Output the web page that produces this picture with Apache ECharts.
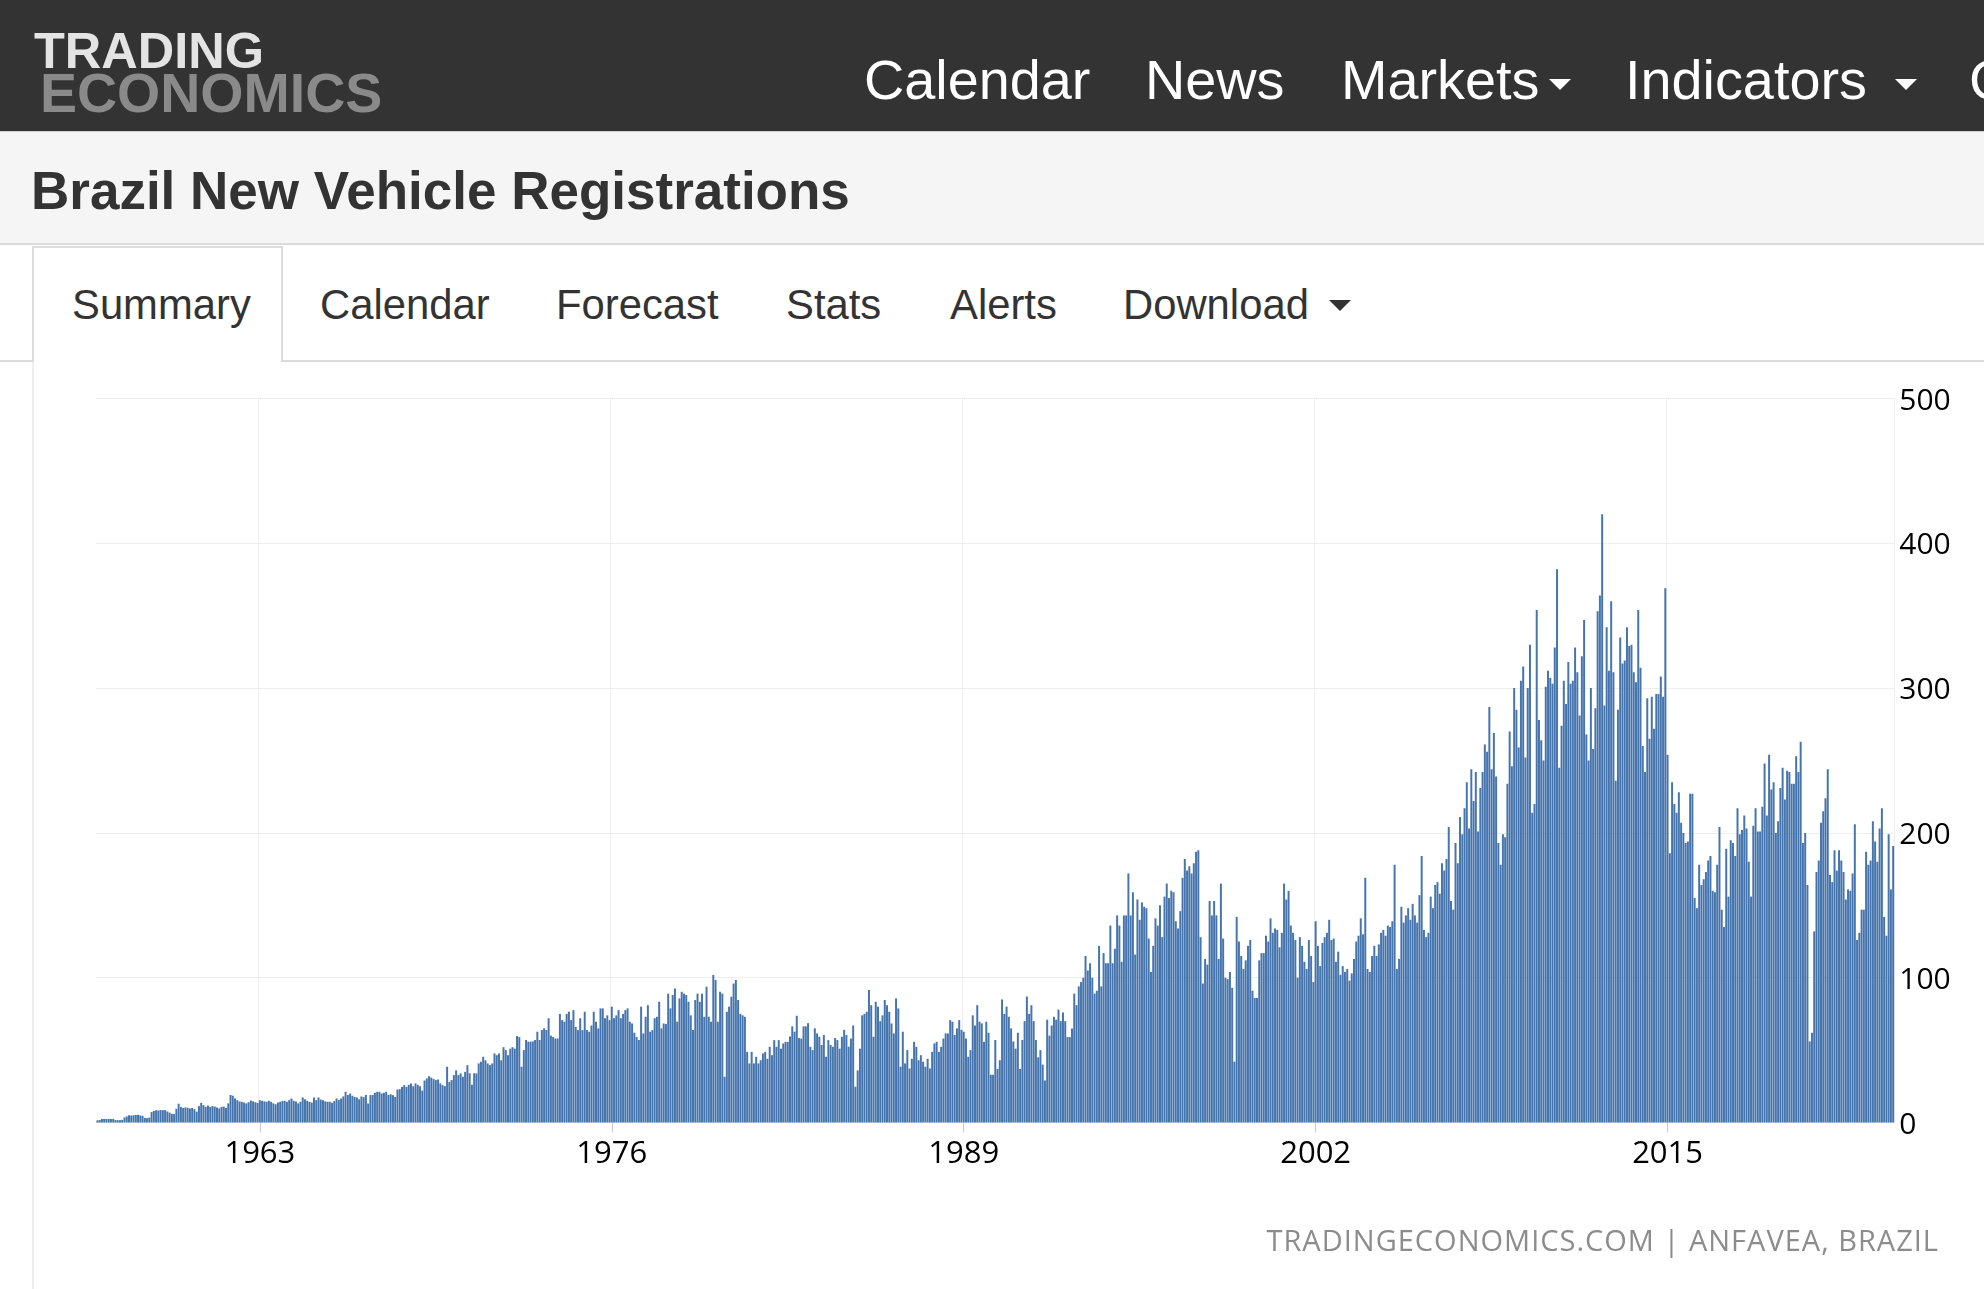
<!DOCTYPE html>
<html>
<head>
<meta charset="utf-8">
<title>Brazil New Vehicle Registrations</title>
<script src="https://cdn.jsdelivr.net/npm/echarts@6/dist/echarts.min.js"></script>
<style>
	html, body { margin:0; padding:0; width:1984px; height:1289px; overflow:hidden; background:#fff; font-family:'Liberation Sans', Arial, Helvetica, sans-serif; }
	.abs { position:absolute; white-space:nowrap; line-height:1; }
	#header { position:absolute; left:0; top:0; width:1984px; height:131px; background:#333; border-bottom:1px solid #cfcfcf; overflow:hidden; }
	#logo1 { left:34px; top:26px; font-size:50.5px; font-weight:bold; color:#e4e4e4; }
	#logo2 { left:40px; top:66px; font-size:55.5px; font-weight:bold; color:#8a8a8a; }
	.nav { top:52px; font-size:55.8px; color:#fff; }
	.caret { position:absolute; width:0; height:0; border-left:11px solid transparent; border-right:11px solid transparent; border-top:11px solid #fff; }
	#titlebar { position:absolute; left:0; top:132px; width:1984px; height:111px; background:#f5f5f5; border-bottom:2px solid #dcdcdc; }
	#title { left:31px; top:164px; font-size:53px; font-weight:bold; color:#333; }
	#tabline { position:absolute; left:0; top:360px; width:1984px; height:2px; background:#dcdcdc; }
	#tabactive { position:absolute; left:32px; top:246px; width:251px; height:116px; box-sizing:border-box; border:2px solid #dcdcdc; border-bottom:0; background:#fff; }
	.tab { top:284px; font-size:41.8px; color:#333; }
	#panelborder { position:absolute; left:32px; top:362px; width:2px; height:927px; background:#eeeeee; z-index:2; }
	#chart { position:absolute; left:35px; top:362px; width:1949px; height:927px; }
	#footer { top:1225px; right:45px; font-family:'Open Sans', sans-serif; font-size:29px; letter-spacing:1px; color:#8c8c8c; }
</style>
</head>
<body>
<div id="header">
	<div class="abs" id="logo1">TRADING</div>
	<div class="abs" id="logo2">ECONOMICS</div>
	<div class="abs nav" style="left:864px;">Calendar</div>
	<div class="abs nav" style="left:1145px;">News</div>
	<div class="abs nav" style="left:1341px;">Markets</div>
	<div class="caret" style="left:1549px;top:79px;"></div>
	<div class="abs nav" style="left:1625px;">Indicators</div>
	<div class="caret" style="left:1895px;top:79px;"></div>
	<div class="abs nav" style="left:1969px;">Countries</div>
</div>
<div id="titlebar"></div>
<div class="abs" id="title">Brazil New Vehicle Registrations</div>
<div id="tabline"></div>
<div id="tabactive"></div>
<div class="abs tab" style="left:72px;">Summary</div>
<div class="abs tab" style="left:320px;">Calendar</div>
<div class="abs tab" style="left:556px;">Forecast</div>
<div class="abs tab" style="left:786px;">Stats</div>
<div class="abs tab" style="left:950px;">Alerts</div>
<div class="abs tab" style="left:1123px;">Download</div>
<div class="caret" style="left:1329px;top:300px;border-top-color:#333;"></div>
<div id="panelborder"></div>
<div id="chart"></div>
<div class="abs" id="footer">TRADINGECONOMICS.COM | ANFAVEA, BRAZIL</div>

<script>
// monthly registrations, thousands of units, first value = Jan 1957
var startYear = 1957;

var values1950s = [
	1.5, 1.7, 2.4, 2.5, 2.5, 2.5, 2.4, 2.5, 1.7, 1.6, 1.6, 1.8,
	3.5, 4.2, 5.0, 4.8, 5.0, 5.2, 5.3, 4.9, 4.6, 3.2, 3.0, 3.4,
	7.2, 8.0, 8.5, 8.3, 8.6, 8.5, 8.6, 7.6, 6.8, 6.0, 5.8, 9.5
];
var values1960s = [
	13, 10.8, 10, 10.4, 10.2, 9.7, 10.0, 9.2, 7.5, 11.3, 13.6, 12,
	10.8, 11.7, 10.8, 11.3, 11.0, 10.4, 9.7, 10.8, 11.0, 10.0, 13.2, 19.0,
	18.5, 16.6, 15.4, 14.5, 14.3, 13.8, 13.2, 14.0, 15.2, 14.6, 14.0, 13.5,
	15.4, 15.0, 14.6, 14.3, 15.0, 14.3, 13.2, 12.6, 13.8, 14.3, 14.8, 15.0,
	14.3, 15.4, 16.6, 15.0, 14.5, 13.2, 14.3, 17.3, 16.0, 15.0, 14.2, 13.8,
	17.3, 15.4, 17.3, 15.8, 15.4, 14.6, 14.3, 14.3, 13.6, 14.8, 16.6, 15.5,
	16.6, 18.0, 21.2, 19.0, 20.0, 18.5, 17.7, 17.3, 16.0, 18.0, 17.5, 19.0,
	13.1, 18.9, 19.0, 20.5, 21.2, 21.2, 20.0, 20.5, 21.2, 19.0, 19.5, 18.9,
	17.7, 22.8, 23.0, 24.6, 25.8, 24.6, 26.0, 27.0, 25.0, 27.0, 26.0, 25.0,
	22.0, 29.0, 30.4, 32.0, 31.0, 30.0, 29.3, 29.7, 27.0, 25.8, 25.1, 38.5
];
var values1970s = [
	28, 29.3, 32.7, 36, 32.7, 33.9, 31.6, 35, 39.6, 34, 26, 34,
	33.9, 40.8, 42, 45.4, 43, 40.8, 39.6, 40.8, 47.7, 46.5, 47.7, 43,
	52, 50, 46.5, 51, 52, 51, 59.7, 59, 38.5, 50, 57, 55.8,
	55.8, 56, 57, 62.7, 57, 63.8, 65, 63.8, 72, 60, 59, 58,
	58, 75, 70.7, 69.6, 75, 76.5, 70.7, 77.6, 66, 63.8, 72, 63.8,
	76.5, 63.8, 62.7, 67, 76.5, 69.6, 65, 78.8, 78.8, 72, 74, 70.7,
	80, 72, 74, 77.6, 72, 75, 77.6, 78.8, 69.6, 68.4, 62, 59,
	57, 80, 61.5, 73, 81, 62.7, 63.8, 72, 73, 83.4, 65, 68.4,
	68, 89, 78.8, 88, 92.6, 69.6, 85.7, 90.3, 89, 88, 83.4, 74,
	63.8, 84.6, 89, 83.4, 89, 73, 93.8, 73, 69.6, 102, 98.4, 69.6
];
var values1980s = [
	90.3, 89, 31.6, 76.5, 80, 86.9, 96, 98.4, 84.6, 75, 74, 73,
	48.8, 40.8, 48.8, 40.8, 45.4, 40.8, 43, 47.7, 48.8, 44, 52.3, 46.5,
	56.9, 52.3, 56.9, 51, 54.6, 55.7, 55.7, 59.4, 66.4, 62.7, 73.7, 58.3,
	58, 66.4, 66.4, 68.6, 52.3, 50, 65, 61.5, 59.2, 53.5, 60.4, 45.4,
	56.9, 53.5, 52.3, 58.3, 56.9, 51, 59.2, 64, 60.4, 52.3, 58, 67,
	24.7, 36, 51, 74, 75, 76.5, 91.5, 81, 59.2, 83.4, 80, 70,
	74, 84.6, 81, 76.5, 68.4, 61.5, 85.7, 78.8, 38.5, 62.7, 40.8, 50,
	37.3, 44, 55.7, 52.3, 43, 46.5, 42, 38.5, 44, 37.3, 48.8, 54.6,
	55.7, 48.8, 52.3, 58, 61.5, 61.5, 70.7, 69.6, 60.4, 65, 70.7, 64,
	62.7, 58, 45.4, 50, 74, 67, 81, 69.6, 68.4, 55.7, 69.6, 62
];
var values1990s = [
	33, 33, 57, 37, 43, 85, 75, 80, 73, 65, 56, 51,
	62, 37, 57, 70, 87, 75, 81, 70, 57, 45, 50, 40,
	29, 71, 60, 67, 73, 71, 78, 70, 76, 70, 59, 59,
	65, 89, 81, 94, 97, 100, 115, 105, 110, 100, 89, 91,
	122, 94, 117, 110, 110, 136, 110, 120, 143, 136, 111, 143,
	143, 172, 143, 159, 116, 154, 140, 152, 149, 148, 127, 104,
	122, 141, 136, 150, 128, 156, 165, 155, 160, 159, 139, 134,
	146, 169, 182, 174, 177, 172, 179, 187, 188, 128, 96, 113,
	109, 153, 143, 153, 143, 113, 165, 127, 100, 99, 104, 93,
	42, 142, 125, 115, 106, 112, 122, 126, 91, 86, 86, 112
];
var values2000s = [
	117, 117, 129, 125, 141, 131, 134, 133, 121, 131, 165, 154,
	160, 136, 131, 126, 100, 128, 122, 111, 106, 126, 115, 97,
	139, 122, 108, 124, 128, 131, 140, 126, 127, 111, 118, 102,
	108, 104, 106, 98, 103, 113, 125, 129, 141, 130, 169, 106,
	104, 115, 122, 115, 123, 131, 133, 129, 136, 135, 139, 178,
	106, 113, 149, 138, 143, 148, 140, 151, 143, 138, 157, 184,
	133, 128, 131, 156, 148, 164, 166, 158, 179, 174, 182, 204,
	153, 147, 193, 179, 211, 199, 217, 235, 203, 244, 222, 242,
	201, 231, 242, 261, 256, 287, 244, 269, 239, 193, 178, 199,
	197, 234, 270, 246, 300, 285, 259, 305, 315, 252, 300, 330
];
var values2010s = [
	214, 220, 354, 278, 264, 250, 301, 312, 307, 303, 328, 382,
	245, 274, 305, 289, 318, 303, 305, 328, 311, 281, 322, 347,
	268, 250, 300, 258, 286, 353, 364, 420, 288, 342, 312, 360,
	311, 236, 285, 335, 317, 319, 342, 329, 330, 311, 304, 354,
	314, 260, 242, 293, 265, 294, 272, 296, 296, 308, 294, 369,
	254, 186, 235, 220, 214, 228, 207, 200, 193, 194, 227, 227,
	155, 148, 178, 164, 168, 173, 181, 184, 160, 159, 178, 204,
	147, 135, 189, 156, 195, 193, 184, 217, 199, 202, 212, 203,
	180, 156, 205, 217, 201, 201, 218, 248, 212, 254, 230, 235,
	200, 208, 231, 245, 223, 243, 242, 234, 234, 253, 242, 263
];
var values2020s = [
	193, 200, 164, 56, 62, 132, 173, 181, 207, 215, 224, 244,
	171, 166, 188, 174, 188, 181, 173, 154, 161, 160, 172, 206,
	126, 131, 147, 147, 187, 178, 181, 208, 194, 180, 203, 217,
	142, 129, 199, 161, 191
];

var labelYears = [1963, 1976, 1989, 2002, 2015];
var yTicks = [0, 100, 200, 300, 400, 500];

var registrations = [].concat(values1950s, values1960s, values1970s, values1980s, values1990s, values2000s, values2010s, values2020s);

var months = [];
for (var i = 0; i < registrations.length; i++) {
	var y = startYear + Math.floor(i / 12);
	var m = i % 12 + 1;
	months.push(y + '-' + (m < 10 ? '0' + m : m));
}

function isLabel(index) {
	if (index % 12 != 0) return false;
	return labelYears.indexOf(startYear + index / 12) >= 0;
}

var myChart = echarts.init(document.getElementById('chart'));
var option = {
	animation: false,
	grid: {
		left: 61.3,
		top: 36.5,
		width: 1798,
		height: 724
	},
	xAxis: {
		type: 'category',
		data: months,
		boundaryGap: true,
		axisLine: { show: false },
		axisTick: {
			show: true,
			alignWithLabel: true,
			interval: function (index) { return isLabel(index); },
			length: 10,
			lineStyle: { color: '#cccccc' }
		},
		axisLabel: {
			interval: function (index) { return isLabel(index); },
			formatter: function (value) { return value.slice(0, 4); },
			fontFamily: 'Open Sans',
			fontSize: 31,
			color: '#000',
			margin: 16
		},
		splitLine: {
			show: true,
			interval: function (index) { return isLabel(index); },
			lineStyle: { color: '#dddddd', type: 'dotted', width: 1 }
		}
	},
	yAxis: {
		type: 'value',
		position: 'right',
		min: yTicks[0],
		max: yTicks[yTicks.length - 1],
		interval: 100,
		axisLine: { show: false },
		axisTick: { show: false },
		axisLabel: {
			fontFamily: 'Open Sans',
			fontSize: 30,
			color: '#000',
			margin: 5,
			verticalAlign: 'top',
			lineHeight: 5
		},
		splitLine: {
			lineStyle: { color: '#dddddd', type: 'dotted', width: 1 }
		}
	},
	series: [{
		name: 'New Vehicle Registrations',
		type: 'bar',
		data: registrations,
		barCategoryGap: '12%',
		silent: true,
		itemStyle: { color: '#4675ae' }
	}]
};
myChart.setOption(option);
</script>
</body>
</html>
